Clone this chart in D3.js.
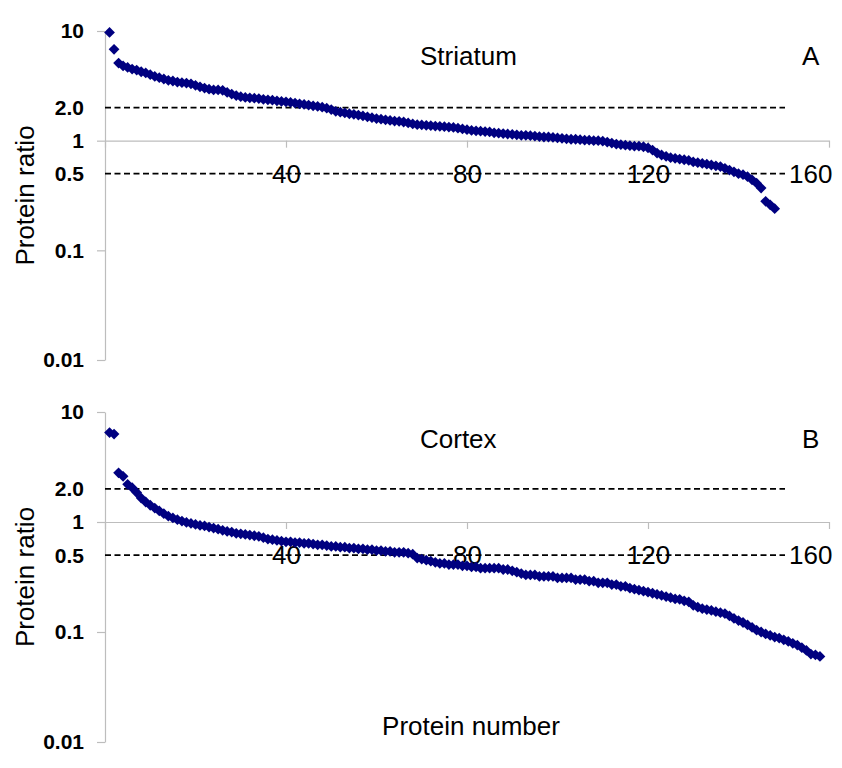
<!DOCTYPE html>
<html>
<head>
<meta charset="utf-8">
<script src="https://cdn.jsdelivr.net/npm/d3@7"></script>
<style>
  html, body { margin: 0; padding: 0; background: #fff; }
  svg { display: block; font-family: "Liberation Sans", Arial, sans-serif; }
</style>
</head>
<body>
<svg id="chart" width="842" height="768"></svg>
<script>
// ---- data ----
const striatum = [
  9.7, 6.8, 5.1, 4.8, 4.65, 4.5, 4.4, 4.25, 4.15, 4.0,
  3.85, 3.75, 3.65, 3.55, 3.5, 3.42, 3.38, 3.35, 3.3, 3.2,
  3.1, 3.02, 2.95, 2.9, 2.9, 2.88, 2.75, 2.66, 2.58, 2.52,
  2.48, 2.46, 2.44, 2.42, 2.38, 2.36, 2.34, 2.31, 2.28, 2.26,
  2.23, 2.2, 2.17, 2.14, 2.11, 2.08, 2.05, 2.02, 1.98, 1.92,
  1.85, 1.82, 1.79, 1.76, 1.74, 1.71, 1.68, 1.65, 1.62, 1.59,
  1.57, 1.55, 1.53, 1.51, 1.5, 1.48, 1.45, 1.42, 1.4, 1.39,
  1.38, 1.37, 1.36, 1.35, 1.34, 1.33, 1.32, 1.3, 1.28, 1.26,
  1.24, 1.23, 1.22, 1.21, 1.2, 1.18, 1.17, 1.16, 1.15, 1.14,
  1.13, 1.12, 1.12, 1.11, 1.1, 1.09, 1.08, 1.08, 1.07, 1.06,
  1.05, 1.04, 1.03, 1.03, 1.02, 1.01, 1.01, 1.0, 1.0, 0.99,
  0.97, 0.95, 0.93, 0.92, 0.91, 0.9, 0.89, 0.89, 0.88, 0.86,
  0.82, 0.77, 0.74, 0.72, 0.7, 0.69, 0.68, 0.67, 0.66, 0.64,
  0.63, 0.62, 0.61, 0.6, 0.59, 0.58, 0.56, 0.54, 0.52, 0.5,
  0.49, 0.47, 0.44, 0.41, 0.37, 0.28, 0.26, 0.24
];
const cortex = [
  6.5, 6.3, 2.8, 2.6, 2.2, 2.05, 1.85, 1.65, 1.52, 1.42,
  1.34, 1.26, 1.19, 1.13, 1.09, 1.05, 1.02, 0.99, 0.97, 0.95,
  0.93, 0.92, 0.9, 0.88, 0.86, 0.84, 0.82, 0.81, 0.79, 0.78,
  0.77, 0.76, 0.75, 0.74, 0.72, 0.7, 0.69, 0.68, 0.67, 0.66,
  0.66, 0.65, 0.65, 0.64, 0.64, 0.63, 0.62, 0.62, 0.61, 0.6,
  0.6, 0.59, 0.59, 0.58, 0.58, 0.57, 0.57, 0.56, 0.56, 0.55,
  0.55, 0.54, 0.54, 0.53, 0.53, 0.53, 0.52, 0.51, 0.47, 0.46,
  0.45, 0.44, 0.43, 0.42, 0.42, 0.41, 0.41, 0.41, 0.4, 0.4,
  0.39, 0.39, 0.38, 0.38, 0.38, 0.38, 0.38, 0.37, 0.37, 0.36,
  0.35, 0.34, 0.33, 0.33, 0.33, 0.32, 0.32, 0.32, 0.32, 0.31,
  0.31, 0.31, 0.31, 0.3, 0.3, 0.3, 0.29, 0.29, 0.28, 0.28,
  0.28, 0.27, 0.27, 0.26, 0.26, 0.25, 0.245, 0.24, 0.235, 0.23,
  0.225, 0.22, 0.215, 0.21, 0.205, 0.2, 0.198, 0.192, 0.188, 0.175,
  0.168, 0.163, 0.16, 0.157, 0.153, 0.15, 0.147, 0.14, 0.133, 0.127,
  0.122, 0.116, 0.11, 0.104, 0.1, 0.096, 0.093, 0.09, 0.088, 0.085,
  0.082, 0.079, 0.076, 0.072, 0.068, 0.063, 0.062, 0.06
];
const xTickValues = [0, 40, 80, 120, 160];
const yTickValues = [10, 1, 0.1, 0.01];
const yTickLabels = ["10", "1", "0.1", "0.01"];
const refValues = [2.0, 0.5];
const refLabels = ["2.0", "0.5"];
const panelTitles = ["Striatum", "Cortex"];
const panelLetters = ["A", "B"];
const yAxisTitle = "Protein ratio";
const xAxisTitle = "Protein number";

// ---- drawing ----
const svg = d3.select("#chart");
svg.append("rect").attr("width", 842).attr("height", 768).attr("fill", "#fff");

const axisGray = "#bdbdbd";
const markColor = "#000080";

const panels = [
  { values: striatum, top: 31, bottom: 360, title: panelTitles[0], letter: panelLetters[0], titleY: 65 },
  { values: cortex,   top: 412, bottom: 742, title: panelTitles[1], letter: panelLetters[1], titleY: 448 }
];

const x = d3.scaleLinear().domain([0, 160]).range([105, 829]);
const diamond = d3.symbol().type(d3.symbolSquare).size(58);

panels.forEach(p => {
  const y = d3.scaleLog().domain([0.01, 10]).range([p.bottom, p.top]);
  const g = svg.append("g");

  // y axis
  const yAxis = d3.axisLeft(y).tickValues(yTickValues)
    .tickFormat((d, i) => yTickLabels[i]).tickSize(8).tickSizeOuter(0).tickPadding(13);
  const ya = g.append("g").attr("transform", `translate(${x(0)},0)`).call(yAxis);
  ya.select(".domain").attr("stroke", axisGray).attr("stroke-width", 1.2);
  ya.selectAll(".tick line").attr("stroke", axisGray).attr("stroke-width", 1.2);
  ya.selectAll(".tick text").attr("fill", "#000").style("font-size", "21px").style("font-weight", "bold")
    .style("font-family", "'Liberation Sans', Arial, sans-serif");

  // reference labels
  g.selectAll(".refLabel").data(refValues).enter().append("text")
    .attr("x", x(0) - 21).attr("y", d => y(d)).attr("dy", "0.36em")
    .attr("text-anchor", "end").style("font-size", "21px").style("font-weight", "bold")
    .text((d, i) => refLabels[i]);

  // x axis at ratio 1
  const xAxis = d3.axisBottom(x).tickValues(xTickValues)
    .tickFormat(d => d === 0 ? "" : String(d)).tickSize(7).tickSizeOuter(0).tickPadding(17);
  const xa = g.append("g").attr("transform", `translate(0,${y(1)})`).call(xAxis);
  xa.select(".domain").attr("stroke", axisGray).attr("stroke-width", 1.2);
  xa.selectAll(".tick line").attr("stroke", axisGray).attr("stroke-width", 1.2);
  xa.selectAll(".tick text").attr("fill", "#000").style("font-size", "26px")
    .style("font-family", "'Liberation Sans', Arial, sans-serif");
  xa.selectAll(".tick text").filter(d => d === 160)
    .attr("text-anchor", "end").attr("x", 832 - x(160));

  // dashed reference lines
  g.selectAll(".ref").data(refValues).enter().append("line")
    .attr("x1", x(0)).attr("x2", 785)
    .attr("y1", d => y(d)).attr("y2", d => y(d))
    .attr("stroke", "#000").attr("stroke-width", 1.7).attr("stroke-dasharray", "6,3.5");

  // points
  g.selectAll(".pt").data(p.values).enter().append("path")
    .attr("d", diamond)
    .attr("transform", (d, i) => `translate(${x(i + 1)},${y(d)}) rotate(45)`)
    .attr("fill", markColor);

  // titles
  g.append("text").attr("x", 420).attr("y", p.titleY).style("font-size", "26px").text(p.title);
  g.append("text").attr("x", 802).attr("y", p.titleY).style("font-size", "26px").text(p.letter);

  // y axis title
  g.append("text")
    .attr("transform", `translate(34,${(p.top + p.bottom) / 2}) rotate(-90)`)
    .attr("text-anchor", "middle").style("font-size", "26px").text(yAxisTitle);
});

svg.append("text").attr("x", 471).attr("y", 735).attr("text-anchor", "middle")
  .style("font-size", "26px").text(xAxisTitle);
</script>
</body>
</html>
